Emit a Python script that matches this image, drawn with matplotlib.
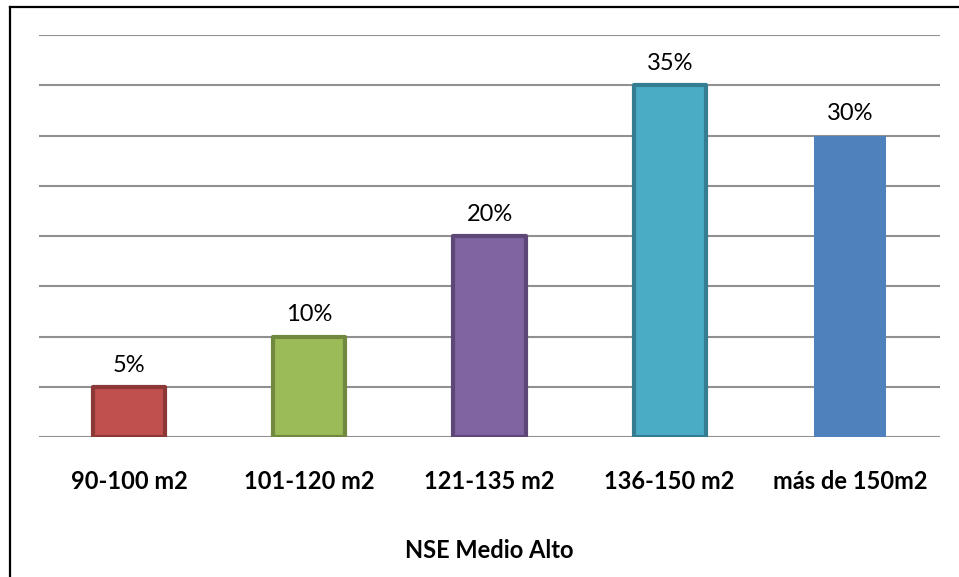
import matplotlib
matplotlib.use("Agg")
import matplotlib.pyplot as plt
from matplotlib.lines import Line2D

categories = ["90-100 m2", "101-120 m2", "121-135 m2", "136-150 m2", "más de 150m2"]
values = [5, 10, 20, 35, 30]
labels = ["5%", "10%", "20%", "35%", "30%"]
fills = ["#C0504D", "#9BBB59", "#8064A2", "#4BACC6", "#4F81BD"]
edges = ["#8C3836", "#71893F", "#5C4776", "#357D91", None]
axis_title = "NSE Medio Alto"

plt.rcParams["font.family"] = ["Lato", "DejaVu Sans"]

W, H = 959, 577
fig = plt.figure(figsize=(W / 100, H / 100), dpi=100)
fig.patch.set_facecolor("white")

# axes box in pixel coordinates: x 39..940, y 35..437 (top-down)
ax = fig.add_axes([39 / W, 1 - 437 / H, (940 - 39) / W, (437 - 35) / H])
ax.set_xlim(-0.5, len(categories) - 0.5)
ax.set_ylim(0, 40)

for y in range(5, 41, 5):
    ax.axhline(y, color="#909090", lw=1.5, zorder=0)
ax.axhline(0, color="#909090", lw=1.5, zorder=0)

for i, (v, f, e, lab) in enumerate(zip(values, fills, edges, labels)):
    if e is None:
        ax.bar(i, v, width=0.4, color=f, edgecolor="none", zorder=2)
    else:
        ax.bar(i, v, width=0.4, color=f, edgecolor=e, linewidth=3,
               joinstyle="round", zorder=2)
    ax.annotate(lab, (i, v), xytext=(0, 8), textcoords="offset points",
                ha="center", va="bottom", fontsize=17, color="black")

ax.set_xticks(range(len(categories)))
ax.set_xticklabels(categories, fontsize=17, fontweight="bold")
ax.tick_params(axis="x", length=0, pad=24)
ax.set_yticks([])
for s in ax.spines.values():
    s.set_visible(False)

ax.set_xlabel(axis_title, fontsize=17, fontweight="bold", labelpad=33)

# outer frame (left and top edges)
fig.add_artist(Line2D([9.5 / W, 9.5 / W], [0, 1 - 6.5 / H], color="black",
                      lw=1.6, transform=fig.transFigure))
fig.add_artist(Line2D([9.5 / W, 1], [1 - 6.5 / H, 1 - 6.5 / H], color="black",
                      lw=1.6, transform=fig.transFigure))

fig.savefig("out.png", dpi=100)
